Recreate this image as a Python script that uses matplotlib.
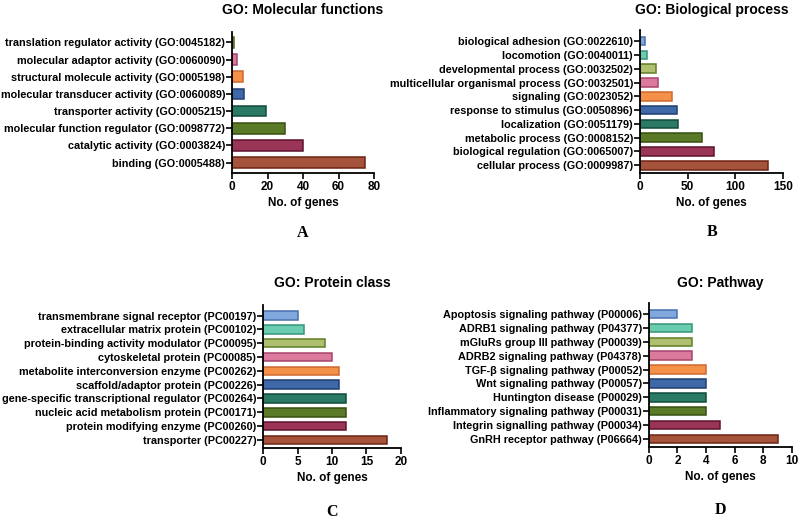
import numpy as np
import matplotlib
matplotlib.use("Agg")
import matplotlib.pyplot as plt

plt.rcParams['font.family'] = ['Liberation Sans', 'DejaVu Sans']
plt.rcParams['font.weight'] = 'bold'

# Panel A: molecular functions (listed bottom -> top)
mf_labels = ["binding (GO:0005488)", "catalytic activity (GO:0003824)",
             "molecular function regulator (GO:0098772)", "transporter activity (GO:0005215)",
             "molecular transducer activity (GO:0060089)", "structural molecule activity (GO:0005198)",
             "molecular adaptor activity (GO:0060090)", "translation regulator activity (GO:0045182)"]
mf_values = [75, 40, 30, 19, 7, 6, 3, 1]

# Panel B: biological process
bp_labels = ["cellular process (GO:0009987)", "biological regulation (GO:0065007)",
             "metabolic process (GO:0008152)", "localization (GO:0051179)",
             "response to stimulus (GO:0050896)", "signaling (GO:0023052)",
             "multicellular organismal process (GO:0032501)", "developmental process (GO:0032502)",
             "locomotion (GO:0040011)", "biological adhesion (GO:0022610)"]
bp_values = [134, 77, 65, 40, 39, 33, 19, 17, 7, 5]

# Panel C: protein class
pc_labels = ["transporter (PC00227)", "protein modifying enzyme (PC00260)",
             "nucleic acid metabolism protein (PC00171)",
             "gene-specific transcriptional regulator (PC00264)",
             "scaffold/adaptor protein (PC00226)", "metabolite interconversion enzyme (PC00262)",
             "cytoskeletal protein (PC00085)", "protein-binding activity modulator (PC00095)",
             "extracellular matrix protein (PC00102)", "transmembrane signal receptor (PC00197)"]
pc_values = [18, 12, 12, 12, 11, 11, 10, 9, 6, 5]

# Panel D: pathway
pw_labels = ["GnRH receptor pathway (P06664)", "Integrin signalling pathway (P00034)",
             "Inflammatory signaling pathway (P00031)", "Huntington disease (P00029)",
             "Wnt signaling pathway (P00057)", "TGF-β signaling pathway (P00052)",
             "ADRB2 signaling pathway (P04378)", "mGluRs group III pathway (P00039)",
             "ADRB1 signaling pathway (P04377)", "Apoptosis signaling pathway (P00006)"]
pw_values = [9, 5, 4, 4, 4, 4, 3, 3, 3, 2]

fills = ["#a5533a", "#9b3558", "#5b7a28", "#2a7a66", "#3f68a8",
         "#f59048", "#db7a9c", "#b0c070", "#6cccb0", "#80a8dc"]
edges = ["#6e2314", "#5e1230", "#384f10", "#124a3a", "#1f3f70",
         "#cf6a32", "#a8446c", "#5f7f25", "#35957a", "#4a70b0"]
# panel A uses the same palette except the last bar
fills_a = fills[:7] + ["#8aa050"]
edges_a = edges[:7] + ["#4f6a1c"]

W, H = 800, 519
fig = plt.figure(figsize=(8, 5.19), dpi=100)


def panel(rect, labels, values, xmax, xstep, title, title_y, letter, letter_y, fc, ec, ylim):
    ax = fig.add_axes(rect)
    y = np.arange(len(values))
    ax.barh(y, values, height=0.62, color=fc, edgecolor=ec, linewidth=1.1)
    ax.set_yticks(y)
    ax.set_yticklabels(labels, fontsize=7.8, fontweight='bold')
    ax.set_xlim(0, xmax)
    ax.set_ylim(*ylim)
    ax.set_xticks(np.arange(0, xmax + 0.01, xstep))
    ax.tick_params(axis='x', labelsize=8.5, width=1.2, length=4, pad=2)
    ax.tick_params(axis='y', width=1.2, length=4, pad=1)
    for lab in ax.get_xticklabels():
        lab.set_fontweight('bold')
    for s in ['top', 'right']:
        ax.spines[s].set_visible(False)
    for s in ['left', 'bottom']:
        ax.spines[s].set_linewidth(1.3)
    ax.set_xlabel("No. of genes", fontsize=8.5, fontweight='bold', labelpad=3)
    cx = rect[0] + rect[2] / 2
    fig.text(cx, 1 - title_y / H, title, fontsize=10, fontweight='bold',
             ha='center', va='center')
    fig.text(cx, 1 - letter_y / H, letter, fontsize=11.5, fontweight='bold',
             family=['Liberation Serif', 'DejaVu Serif'], ha='center', va='center')
    return ax


panel([0.29, 0.667, 0.1775, 0.271], mf_labels, mf_values, 80, 20,
      "GO: Molecular functions", 10, "A", 233, fills_a, edges_a, (-0.6, 7.6))
panel([0.80, 0.667, 0.179, 0.275], bp_labels, bp_values, 150, 50,
      "GO: Biological process", 10, "B", 232, fills, edges, (-0.55, 9.8))
panel([0.329, 0.137, 0.172, 0.275], pc_labels, pc_values, 20, 5,
      "GO: Protein class", 283, "C", 512, fills, edges, (-0.58, 9.75))
panel([0.811, 0.139, 0.179, 0.277], pw_labels, pw_values, 10, 2,
      "GO: Pathway", 283, "D", 510, fills, edges, (-0.58, 9.8))

fig.savefig("out.png", dpi=100)
